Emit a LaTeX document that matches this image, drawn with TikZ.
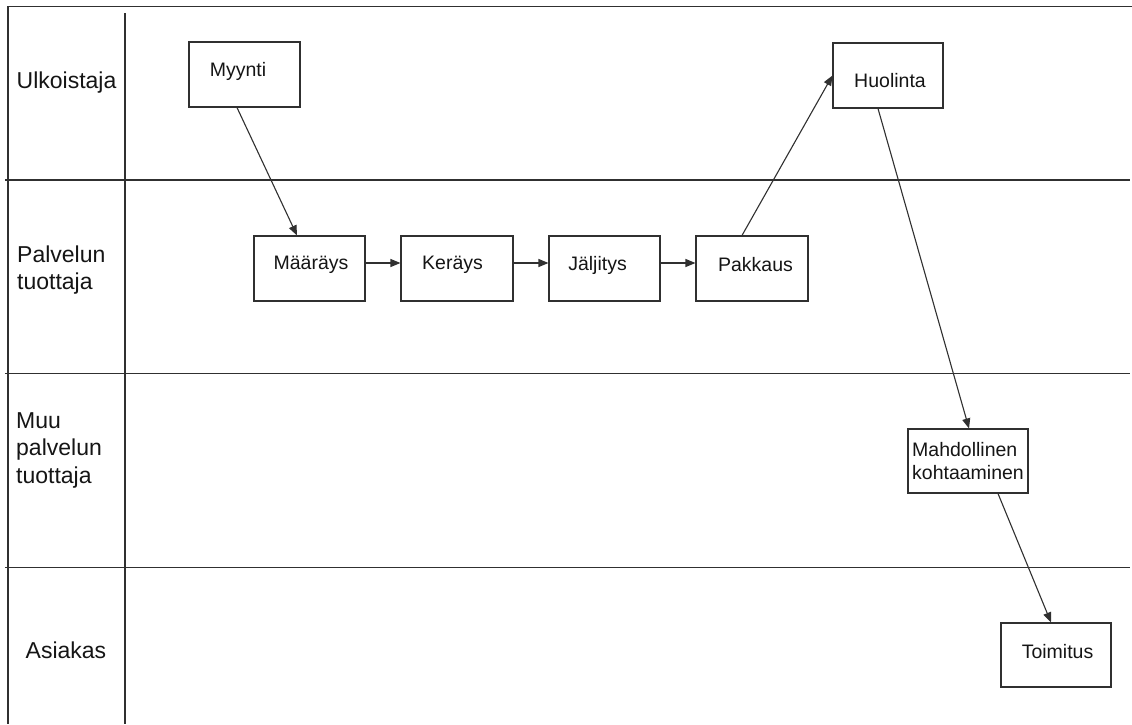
\documentclass[tikz,border=0pt]{standalone}
\usepackage{fontspec}
\setmainfont{Liberation Sans}
\usetikzlibrary{arrows.meta}
\definecolor{lineC}{HTML}{303030}
\definecolor{textC}{HTML}{151515}
\tikzset{
  grid/.style={draw=lineC, line width=1.1pt},
  box/.style={draw=lineC, line width=1.1pt, fill=white, inner sep=0pt, minimum height=65pt, minimum width=111pt},
  boxtext/.style={font=\fontsize{19.5}{23}\selectfont, text=textC},
  lane/.style={font=\fontsize{23}{27.5}\selectfont, text=textC, align=left, inner sep=0pt},
  flow/.style={draw=lineC, line width=1.1pt, -{Triangle[length=10pt,width=8pt]}}
}
\begin{document}
\begin{tikzpicture}[x=1pt,y=-1pt]
\useasboundingbox (0,0) rectangle (1132,724);
\fill[white] (0,0) rectangle (1132,724);
% frame and lanes
\coordinate (tl) at (8,6.5);
\coordinate (tr) at (1132,6.5);
\coordinate (bl) at (8,724);
\coordinate (dt) at (125,13);
\coordinate (db) at (125,724);
\draw[grid] (tr) -- (tl) -- (bl);
\draw[grid] (dt) -- (db);
\coordinate (h1a) at (5,180);   \coordinate (h1b) at (1130,180);
\coordinate (h2a) at (5,373.5); \coordinate (h2b) at (1130,373.5);
\coordinate (h3a) at (5,567.5); \coordinate (h3b) at (1130,567.5);
\draw[grid] (h1a) -- (h1b);
\draw[grid] (h2a) -- (h2b);
\draw[grid] (h3a) -- (h3b);
% lane labels
\node[lane, anchor=base west] (l1) at (16.5,88) {Ulkoistaja};
\node[lane, anchor=west] (l2) at (17,270) {Palvelun\\tuottaja};
\node[lane, anchor=west] (l3) at (16,450) {Muu\\palvelun\\tuottaja};
\node[lane, anchor=base west] (l4) at (25.5,658) {Asiakas};
% boxes
\node[box, label={[boxtext, shift={(-6.5pt,3pt)}]center:Myynti}] (myynti) at (244.5,74.5) {};
\node[box, label={[boxtext, shift={(1.5pt,3.5pt)}]center:Määräys}] (maar) at (309.5,268.5) {};
\node[box, minimum width=112pt, label={[boxtext, shift={(-4.5pt,3.5pt)}]center:Keräys}] (ker) at (457,268.5) {};
\node[box, label={[boxtext, shift={(-7pt,3.5pt)}]center:Jäljitys}] (jal) at (604.5,268.5) {};
\node[box, minimum width=112pt, label={[boxtext, shift={(3.5pt,3.5pt)}]center:Pakkaus}] (pak) at (752,268.5) {};
\node[box, minimum width=110pt, label={[boxtext, shift={(2pt,-5.5pt)}]center:Huolinta}] (huo) at (888,75.5) {};
\node[box, boxtext, minimum width=120pt, minimum height=64pt, align=left, inner xsep=2pt] (mahd) at (968,461) {Mahdollinen\\kohtaaminen};
\node[box, minimum width=110pt, minimum height=64pt, label={[boxtext, shift={(1.5pt,3.5pt)}]center:Toimitus}] (toim) at (1056,655) {};
% connectors
\draw[flow] ([xshift=-7.5pt]myynti.south) -- ([xshift=-12.5pt]maar.north);
\draw[flow] ([yshift=5.5pt]maar.east) -- ([yshift=5.5pt]ker.west);
\draw[flow] ([yshift=5.5pt]ker.east) -- ([yshift=5.5pt]jal.west);
\draw[flow] ([yshift=5.5pt]jal.east) -- ([yshift=5.5pt]pak.west);
\draw[flow] ([xshift=-10pt]pak.north) -- (huo.west);
\draw[flow] ([xshift=-10pt]huo.south) -- ([xshift=1pt]mahd.north);
\draw[flow] ([xshift=30pt]mahd.south) -- ([xshift=-5pt]toim.north);
\end{tikzpicture}
\end{document}
